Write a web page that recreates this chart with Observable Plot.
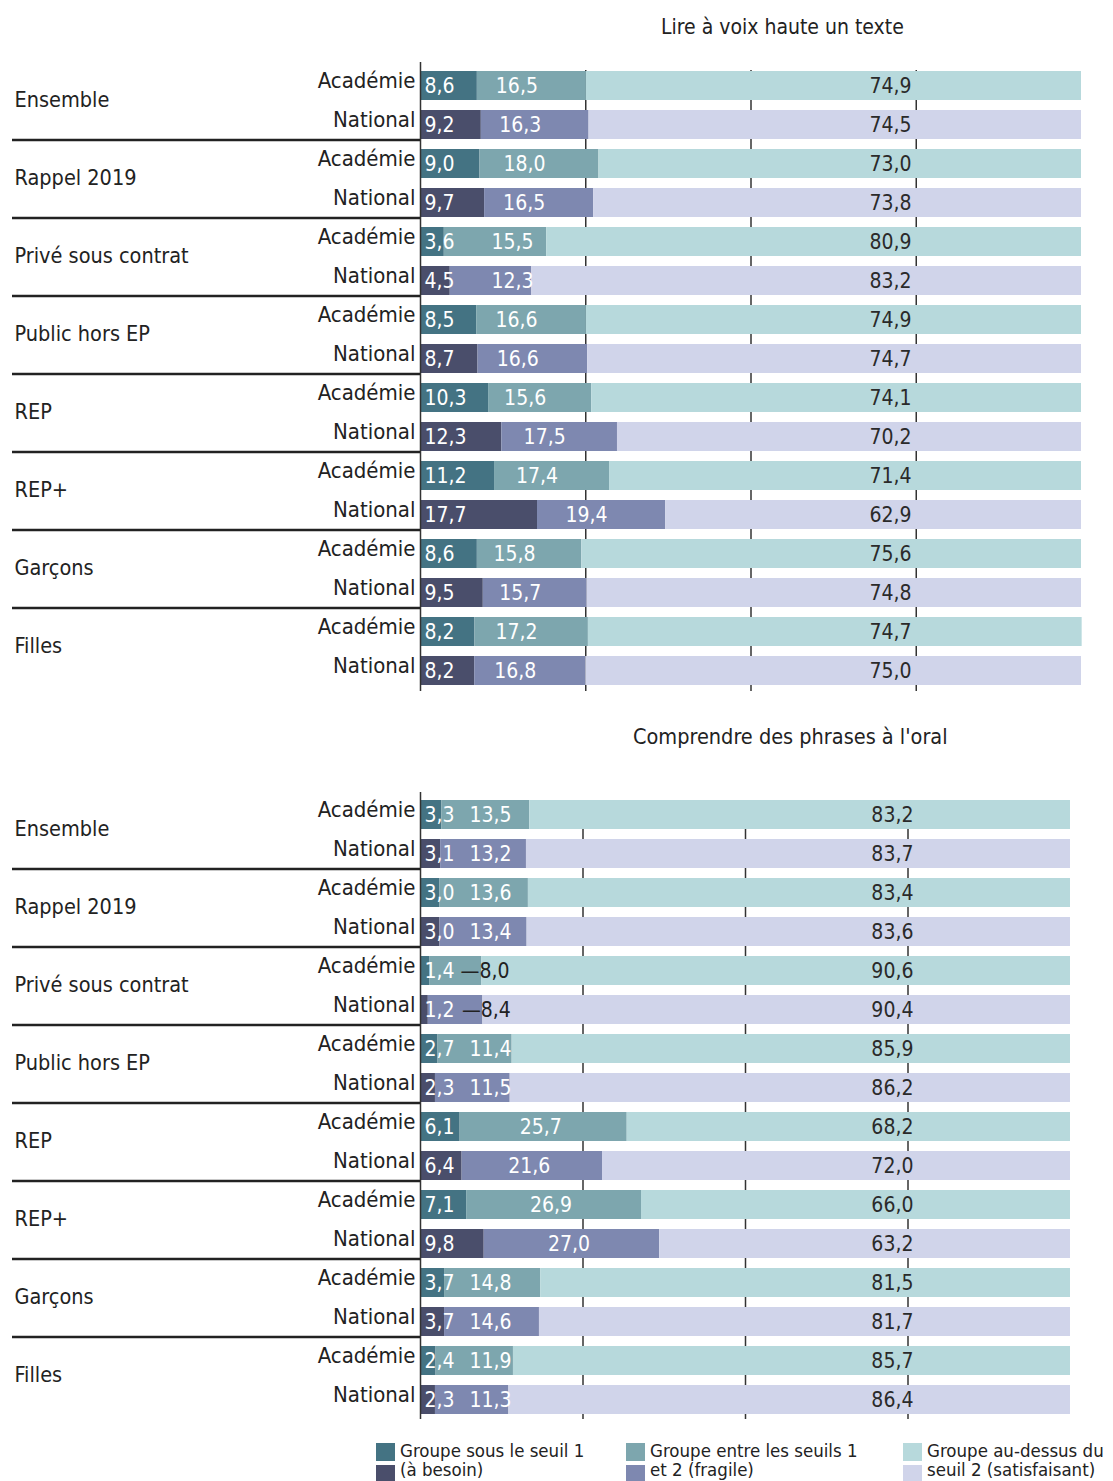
<!DOCTYPE html>
<html>
<head>
<meta charset="utf-8">
<script src="https://cdn.jsdelivr.net/npm/d3@7"></script>
<script src="https://cdn.jsdelivr.net/npm/@observablehq/plot@0.6"></script>
<style>
  body { margin: 0; background: #fff; font-family: "Liberation Sans Narrow", "DejaVu Sans Condensed", "Roboto", sans-serif; color: #222; }
  #page { width: 1113px; position: relative; }
  .title { font-size: 21px; color: #222; white-space: nowrap; }
  #t1 { height: 50px; line-height: 26px; padding-left: 661px; box-sizing: border-box; padding-top: 14px; }
  #t2 { height: 84px; line-height: 26px; padding-left: 633px; box-sizing: border-box; padding-top: 28px; }
  #t2.title { font-size: 21.5px; }
  svg { display: block; }
  #legend { position: relative; height: 57px; overflow: hidden; }
  .lg { position: absolute; top: 19px; }
  .sw { position: absolute; left: 0; width: 19px; height: 18px; }
  .lt { position: absolute; left: 24px; top: -2px; font-size: 18.5px; line-height: 19px; white-space: nowrap; color: #222; }
</style>
</head>
<body>
<div id="page">
  <div id="t1" class="title"></div>
  <div id="c1"></div>
  <div id="t2" class="title"></div>
  <div id="c2"></div>
  <div id="legend"></div>
</div>
<script>
// ---------- data ----------
const groups = ["Ensemble", "Rappel 2019", "Privé sous contrat", "Public hors EP", "REP", "REP+", "Garçons", "Filles"];
const types = ["Académie", "National"];
const segments = ["sous", "entre", "dessus"];

const titleLire = "Lire à voix haute un texte";
const titleComprendre = "Comprendre des phrases à l'oral";

// rows: group × type (Académie, National)
const lireSous   = [8.6, 9.2, 9.0, 9.7, 3.6, 4.5, 8.5, 8.7, 10.3, 12.3, 11.2, 17.7, 8.6, 9.5, 8.2, 8.2];
const lireEntre  = [16.5, 16.3, 18.0, 16.5, 15.5, 12.3, 16.6, 16.6, 15.6, 17.5, 17.4, 19.4, 15.8, 15.7, 17.2, 16.8];
const lireDessus = [74.9, 74.5, 73.0, 73.8, 80.9, 83.2, 74.9, 74.7, 74.1, 70.2, 71.4, 62.9, 75.6, 74.8, 74.7, 75.0];

const compSous   = [3.3, 3.1, 3.0, 3.0, 1.4, 1.2, 2.7, 2.3, 6.1, 6.4, 7.1, 9.8, 3.7, 3.7, 2.4, 2.3];
const compEntre  = [13.5, 13.2, 13.6, 13.4, 8.0, 8.4, 11.4, 11.5, 25.7, 21.6, 26.9, 27.0, 14.8, 14.6, 11.9, 11.3];
const compDessus = [83.2, 83.7, 83.4, 83.6, 90.6, 90.4, 85.9, 86.2, 68.2, 72.0, 66.0, 63.2, 81.5, 81.7, 85.7, 86.4];

const legendLines = [
  ["Groupe sous le seuil 1", "(à besoin)"],
  ["Groupe entre les seuils 1", "et 2 (fragile)"],
  ["Groupe au-dessus du", "seuil 2 (satisfaisant)"]
];

// colours: [type][segment]
const colors = {
  "Académie": ["#447383", "#7da6ae", "#b7d9dc"],
  "National": ["#4a4e6b", "#7e88b0", "#d0d4ea"]
};

// ---------- helpers ----------
const FONT = `"Liberation Sans Narrow", "DejaVu Sans Condensed", Roboto, sans-serif`;
const fmt = v => v.toFixed(1).replace(".", ",");
const rowKey = (g, t) => g + "|" + t;
const rows = groups.flatMap(g => types.map(t => rowKey(g, t)));

function buildLong(sous, entre, dessus) {
  const out = [];
  rows.forEach((r, i) => {
    const [g, t] = r.split("|");
    const vals = [sous[i], entre[i], dessus[i]];
    let acc = 0;
    vals.forEach((v, s) => {
      out.push({row: r, group: g, type: t, seg: s, value: v, x1: acc, x2: acc + v, key: t + s});
      acc += v;
    });
  });
  return out;
}

const colorDomain = types.flatMap(t => segments.map((_, s) => t + s));
const colorRange = types.flatMap(t => colors[t]);

function chart(sous, entre, dessus, opts) {
  const data = buildLong(sous, entre, dessus);
  const {pxPerUnit, marginRight, frameH, thirdX, midShiftPx, midMinPx} = opts;
  const leftUnits = 408 / pxPerUnit;
  const marginTop = 20, marginBottom = 10;
  const small = d => d.seg === 1 && d.value < 9;
  const midX = d => Math.max((d.x1 + d.x2) / 2 + midShiftPx / pxPerUnit, midMinPx / pxPerUnit);
  return Plot.plot({
    width: 1113,
    height: marginTop + frameH + marginBottom,
    marginLeft: 12,
    marginRight,
    marginTop,
    marginBottom,
    style: {fontFamily: FONT, background: "#fff"},
    x: {domain: [-leftUnits, 100], axis: null},
    y: {domain: rows, axis: null, paddingInner: 0.26, paddingOuter: 0},
    color: {domain: colorDomain, range: colorRange},
    marks: [
      Plot.ruleX([25, 50, 75], {stroke: "#333", strokeWidth: 1.5, insetBottom: -5}),
      Plot.barX(data, {x1: "x1", x2: "x2", y: "row", fill: "key"}),
      Plot.ruleX([0], {stroke: "#333", strokeWidth: 1.5, insetTop: -8, insetBottom: -5}),
      // segment 1 labels
      Plot.text(data.filter(d => d.seg === 0), {
        x: "x1", y: "row", text: d => fmt(d.value), textAnchor: "start", dx: 4,
        fill: "#fff", fontSize: 21
      }),
      // segment 2 labels
      Plot.text(data.filter(d => d.seg === 1 && !small(d)), {
        x: midX, y: "row", text: d => fmt(d.value),
        fill: "#fff", fontSize: 21
      }),
      Plot.text(data.filter(small), {
        x: "x2", y: "row", text: d => "\u2014" + fmt(d.value), textAnchor: "start", dx: -21,
        fill: "#222", fontSize: 21
      }),
      // segment 3 labels
      Plot.text(data.filter(d => d.seg === 2), {
        x: thirdX, y: "row", text: d => fmt(d.value),
        fill: "#2a2a2a", fontSize: 21
      }),
      // row labels
      Plot.text(data.filter(d => d.seg === 0), {
        x: 0, y: "row", text: "type", textAnchor: "end", dx: -5, dy: -5,
        fill: "#222", fontSize: 22
      }),
      // group labels
      Plot.text(groups, {
        x: -leftUnits, y: g => rowKey(g, "Académie"), text: d => d, textAnchor: "start", dx: 2, dy: 14,
        fill: "#222", fontSize: 21.5
      }),
      // separators
      Plot.ruleY(groups.slice(0, -1), {
        y: g => rowKey(g, "National"), x1: -leftUnits, x2: 0, dy: 15,
        stroke: "#222", strokeWidth: 2.5
      })
    ]
  });
}

document.getElementById("t1").textContent = titleLire;
document.getElementById("t2").textContent = titleComprendre;

// chart 1: 0 → px 420, 100 → px 1081
document.getElementById("c1").append(chart(lireSous, lireEntre, lireDessus, {
  pxPerUnit: 6.61, marginRight: 32, frameH: 616, thirdX: 71.1, midShiftPx: -15, midMinPx: 92
}));
// chart 2: 0 → px 420, 100 → px 1070
document.getElementById("c2").append(chart(compSous, compEntre, compDessus, {
  pxPerUnit: 6.5, marginRight: 43, frameH: 614, thirdX: 72.6, midShiftPx: -3, midMinPx: 70
}));

// legend
const legend = document.getElementById("legend");
const legendX = [376, 626, 903];
segments.forEach((s, i) => {
  const col = document.createElement("div");
  col.className = "lg";
  col.style.left = legendX[i] + "px";
  types.forEach((t, j) => {
    const sw = document.createElement("div");
    sw.className = "sw";
    sw.style.top = (j * 22) + "px";
    sw.style.background = colors[t][i];
    col.append(sw);
  });
  const txt = document.createElement("div");
  txt.className = "lt";
  txt.innerHTML = legendLines[i].map(l => `<div>${l}</div>`).join("");
  col.append(txt);
  legend.append(col);
});
</script>
</body>
</html>
